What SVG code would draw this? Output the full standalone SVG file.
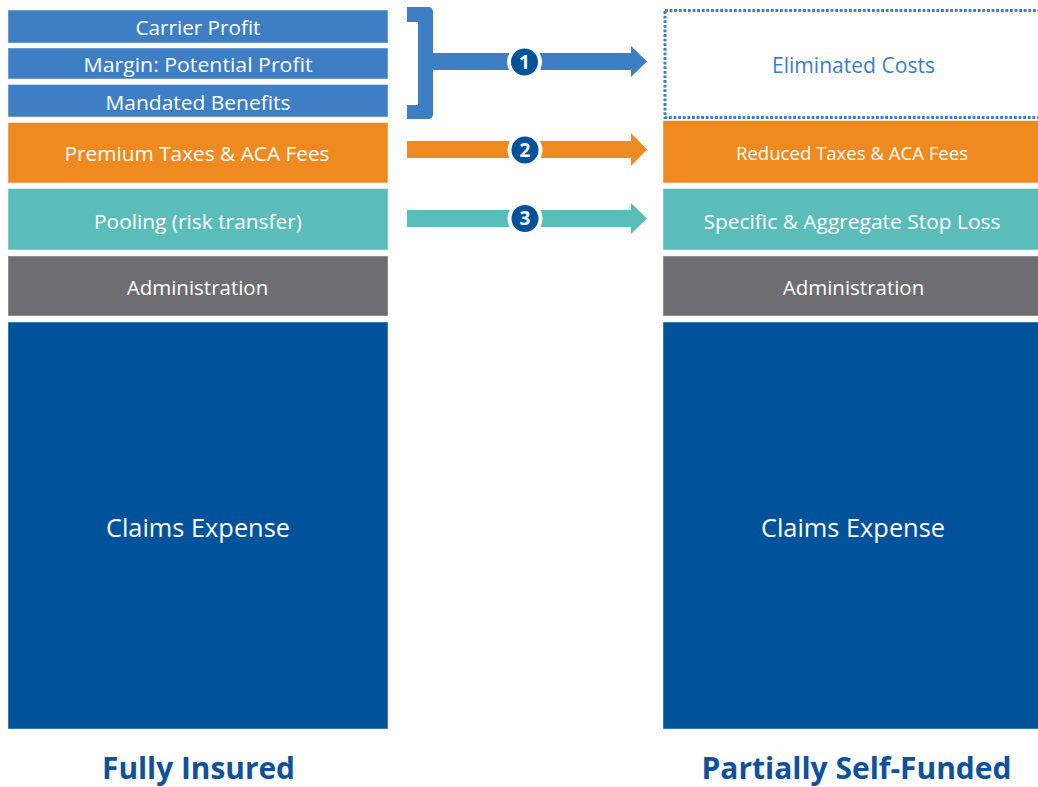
<svg xmlns="http://www.w3.org/2000/svg" width="1038" height="787" viewBox="0 0 1038 787">
  <style>
    .lbl { font-family: "Open Sans", "Liberation Sans", sans-serif; fill: #ffffff; text-anchor: middle; }
    .title { font-family: "Open Sans", "Liberation Sans", sans-serif; font-weight: 700; fill: #0f519c; text-anchor: middle; }
    .box { stroke: #ffffff; stroke-opacity: 0.45; stroke-width: 1; }
    .blue { fill: #3e7ec4; }
    .orange { fill: #ee8a20; }
    .teal { fill: #5bbdba; }
    .gray { fill: #6e6e72; }
    .navy { fill: #00529b; }
    .badge circle { fill: #00529b; stroke: #ffffff; stroke-width: 4; }
    .badge text { font-family: "Open Sans", "Liberation Sans", sans-serif; font-weight: 700; font-size: 19px; fill: #ffffff; text-anchor: middle; }
  </style>
  <rect width="1038" height="787" fill="#ffffff"/>

  <!-- Fully insured stack -->
  <g id="carrier-profit">
    <rect class="box blue" x="8" y="10" width="380" height="33"/>
    <text class="lbl" x="198" y="35" font-size="20" textLength="125" lengthAdjust="spacingAndGlyphs">Carrier Profit</text>
  </g>
  <g id="margin">
    <rect class="box blue" x="8" y="48" width="380" height="31"/>
    <text class="lbl" x="198" y="71.5" font-size="20" textLength="229" lengthAdjust="spacingAndGlyphs">Margin: Potential Profit</text>
  </g>
  <g id="mandated-benefits">
    <rect class="box blue" x="8" y="84.5" width="380" height="32.5"/>
    <text class="lbl" x="198" y="110" font-size="20" textLength="185" lengthAdjust="spacingAndGlyphs">Mandated Benefits</text>
  </g>
  <g id="premium-taxes">
    <rect class="box orange" x="8" y="122.5" width="380" height="60.5"/>
    <text class="lbl" x="197" y="160.7" font-size="20" textLength="265" lengthAdjust="spacingAndGlyphs">Premium Taxes &amp; ACA Fees</text>
  </g>
  <g id="pooling">
    <rect class="box teal" x="8" y="188.5" width="380" height="61.5"/>
    <text class="lbl" x="198" y="229.3" font-size="20" textLength="208" lengthAdjust="spacingAndGlyphs">Pooling (risk transfer)</text>
  </g>
  <g id="administration-left">
    <rect class="box gray" x="8" y="256" width="380" height="60"/>
    <text class="lbl" x="197.5" y="295" font-size="20" textLength="141.5" lengthAdjust="spacingAndGlyphs">Administration</text>
  </g>
  <g id="claims-left">
    <rect class="box navy" x="8" y="322" width="380" height="407"/>
    <text class="lbl" x="198" y="537" font-size="26" textLength="184" lengthAdjust="spacingAndGlyphs">Claims Expense</text>
  </g>
  <g id="title-left">
    <text class="title" x="198.5" y="779" font-size="31" textLength="193" lengthAdjust="spacingAndGlyphs">Fully Insured</text>
  </g>

  <!-- Partially self-funded stack -->
  <g id="eliminated-costs">
    <rect x="665" y="10.5" width="380" height="107" fill="none" stroke="#3e7ec4" stroke-width="3" stroke-dasharray="2.8 1.8"/>
    <text class="lbl" x="853.5" y="72.7" font-size="21" style="fill:#3e7ec4" textLength="163" lengthAdjust="spacingAndGlyphs">Eliminated Costs</text>
  </g>
  <g id="reduced-taxes">
    <rect class="box orange" x="663" y="120.5" width="380" height="62.5"/>
    <text class="lbl" x="852" y="160" font-size="19" textLength="232" lengthAdjust="spacingAndGlyphs">Reduced Taxes &amp; ACA Fees</text>
  </g>
  <g id="stop-loss">
    <rect class="box teal" x="663" y="188.5" width="380" height="61.5"/>
    <text class="lbl" x="852" y="229" font-size="20.5" textLength="297" lengthAdjust="spacingAndGlyphs">Specific &amp; Aggregate Stop Loss</text>
  </g>
  <g id="administration-right">
    <rect class="box gray" x="663" y="256" width="380" height="60"/>
    <text class="lbl" x="853.5" y="295" font-size="20" textLength="141.5" lengthAdjust="spacingAndGlyphs">Administration</text>
  </g>
  <g id="claims-right">
    <rect class="box navy" x="663" y="322" width="380" height="407"/>
    <text class="lbl" x="853" y="537" font-size="26" textLength="184" lengthAdjust="spacingAndGlyphs">Claims Expense</text>
  </g>
  <g id="title-right">
    <text class="title" x="856.5" y="779" font-size="31" textLength="310" lengthAdjust="spacingAndGlyphs">Partially Self-Funded</text>
  </g>

  <!-- Connectors: bracket arrow and two straight arrows -->
  <g id="connectors">
    <path fill="#3e7ec4" d="M407,7 H428 Q433,7 433,12 V53 H631 V46 L647,61.5 L631,77 V70 H433 V114 Q433,119 428,119 H407 V105 H418 V22 H407 Z"/>
    <path fill="#ee8a20" d="M407,141 H631 V133 L647,149.5 L631,166 V158 H407 Z"/>
    <path fill="#5bbdba" d="M407,210 H631 V203 L647,218.5 L631,234 V227 H407 Z"/>
  </g>

  <g id="badge-1" class="badge">
    <circle cx="524.5" cy="62" r="15.5"/>
    <text x="524.5" y="68.5">1</text>
  </g>
  <g id="badge-2" class="badge">
    <circle cx="525" cy="150" r="15.5"/>
    <text x="525" y="156.5">2</text>
  </g>
  <g id="badge-3" class="badge">
    <circle cx="525" cy="218.5" r="15.5"/>
    <text x="525" y="225">3</text>
  </g>
</svg>
